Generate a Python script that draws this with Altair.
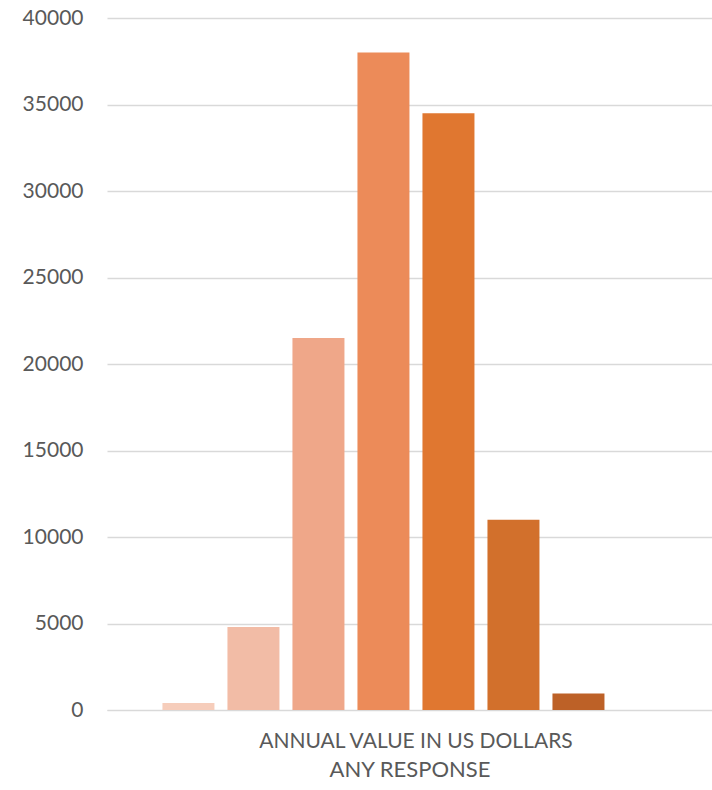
import altair as alt
import pandas as pd

category = "ANNUAL VALUE IN US DOLLARS"
series = ["Band 1", "Band 2", "Band 3", "Band 4", "Band 5", "Band 6", "Band 7", "Band 8"]
values = [400, 4800, 21500, 38000, 34500, 11000, 950]
colors = ["#F6CDBB", "#F2BCA6", "#EFA789", "#EC8B59", "#E07730", "#D2702C", "#BD6127", "#A5511F"]
y_ticks = [0, 5000, 10000, 15000, 20000, 25000, 30000, 35000, 40000]

df = pd.DataFrame({
    "category": [category] * len(values),
    "series": series[:len(values)],
    "value": values,
})

FONT = "Lato"
GREY = "#595959"

chart = alt.Chart(df).mark_bar().encode(
    x=alt.X(
        "category:N",
        scale=alt.Scale(paddingInner=0, paddingOuter=0.0817, align=0.576),
        axis=alt.Axis(
            title="ANY RESPONSE",
            labelAngle=0,
            ticks=False,
            grid=False,
            domainColor="#D9D9D9",
            domainWidth=1,
            labelFont=FONT,
            labelFontSize=21,
            labelColor=GREY,
            labelPadding=20,
            labelLimit=600,
            titleFont=FONT,
            titleFontSize=22,
            titleFontWeight="normal",
            titleColor=GREY,
            titlePadding=8,
        ),
    ),
    xOffset=alt.XOffset(
        "series:N",
        scale=alt.Scale(domain=series, paddingInner=0.2, paddingOuter=0.1),
    ),
    y=alt.Y(
        "value:Q",
        scale=alt.Scale(domain=[0, 40000], nice=False),
        axis=alt.Axis(
            title=None,
            values=y_ticks,
            format="d",
            domain=False,
            ticks=False,
            gridColor="#D9D9D9",
            gridWidth=1.5,
            labelFont=FONT,
            labelFontSize=21,
            labelColor=GREY,
            labelPadding=24,
        ),
    ),
    color=alt.Color(
        "series:N",
        scale=alt.Scale(domain=series, range=colors),
        legend=None,
    ),
).properties(
    width=605,
    height=692,
    background="white",
    autosize=alt.AutoSizeParams(type="none"),
    padding={"left": 107, "top": 18, "right": 0, "bottom": 80},
).configure_view(
    stroke=None
)

chart.save("out.html", embed_options={"renderer": "svg", "actions": False})
